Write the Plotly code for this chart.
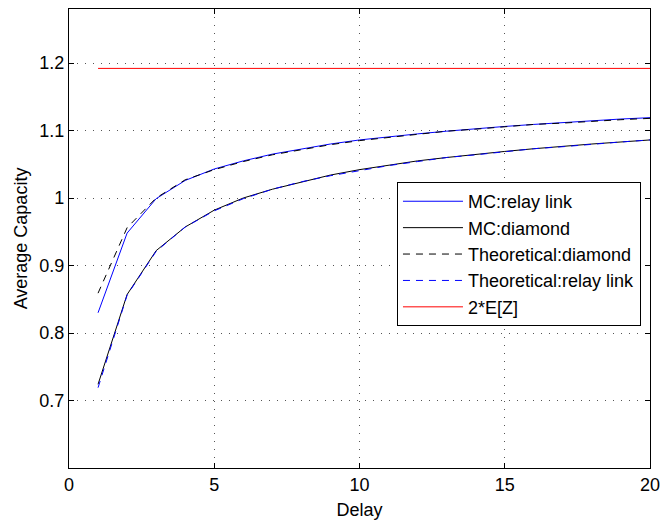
import plotly.graph_objects as go

# delay values (x axis)
delay = [1, 2, 3, 4, 5, 6, 7, 8, 9, 10, 11, 12, 13, 14, 15, 16, 17, 18, 19, 20]

# average capacity
mc_relay = [0.830, 0.948, 0.999, 1.026, 1.043, 1.055, 1.065, 1.073, 1.080, 1.086,
            1.091, 1.095, 1.099, 1.103, 1.106, 1.109, 1.112, 1.114, 1.117, 1.119]
mc_diamond = [0.724, 0.857, 0.922, 0.957, 0.982, 1.000, 1.013, 1.024, 1.034, 1.042,
              1.049, 1.055, 1.060, 1.065, 1.069, 1.073, 1.077, 1.080, 1.083, 1.086]
th_diamond = [0.859, 0.956, 1.000, 1.027, 1.042, 1.054, 1.064, 1.072, 1.079, 1.085,
              1.090, 1.095, 1.099, 1.102, 1.106, 1.109, 1.111, 1.114, 1.116, 1.118]
th_relay = [0.719, 0.856, 0.921, 0.957, 0.981, 0.999, 1.013, 1.024, 1.033, 1.041,
            1.048, 1.054, 1.060, 1.064, 1.069, 1.073, 1.076, 1.080, 1.083, 1.086]
ez_x = [1, 20]
ez_y = [1.192, 1.192]

font = "Liberation Sans, Arial, sans-serif"
fs = 18
dash = "7px,6px"

fig = go.Figure()
fig.add_trace(go.Scatter(x=delay, y=mc_relay, mode="lines", name="MC:relay link",
                         line=dict(color="#0000ff", width=1)))
fig.add_trace(go.Scatter(x=delay, y=mc_diamond, mode="lines", name="MC:diamond",
                         line=dict(color="#000000", width=1)))
fig.add_trace(go.Scatter(x=delay, y=th_diamond, mode="lines", name="Theoretical:diamond",
                         line=dict(color="#000000", width=1, dash=dash)))
fig.add_trace(go.Scatter(x=delay, y=th_relay, mode="lines", name="Theoretical:relay link",
                         line=dict(color="#0000ff", width=1, dash=dash)))
fig.add_trace(go.Scatter(x=ez_x, y=ez_y, mode="lines", name="2*E[Z]",
                         line=dict(color="#ff0000", width=1)))

axis_style = dict(
    showline=True, linecolor="black", linewidth=1.3, mirror="ticks",
    ticks="inside", ticklen=5, tickcolor="black",
    showgrid=True, gridcolor="#555555", griddash="1px,7px", gridwidth=1,
    zeroline=False, automargin=False,
    tickfont=dict(family=font, size=fs, color="black"),
)

fig.update_xaxes(range=[0, 20], tickvals=[0, 5, 10, 15, 20],
                 title=dict(text="Delay", font=dict(family=font, size=fs, color="black"),
                            standoff=9),
                 **axis_style)
fig.update_yaxes(range=[0.6, 1.28], tickvals=[0.7, 0.8, 0.9, 1.0, 1.1, 1.2],
                 ticktext=["0.7", "0.8", "0.9", "1", "1.1", "1.2"],
                 title=dict(text="Average Capacity", font=dict(family=font, size=fs, color="black"),
                            standoff=6),
                 **axis_style)

fig.update_layout(
    width=661, height=521,
    margin=dict(l=69, r=11, t=9, b=53),
    paper_bgcolor="white", plot_bgcolor="white",
    font=dict(family=font, size=fs, color="black"),
    legend=dict(x=0.5645, y=0.623, xanchor="left", yanchor="top",
                bgcolor="white", bordercolor="black", borderwidth=1,
                itemwidth=60,
                font=dict(family=font, size=fs, color="black")),
)

# page body has a default 8px margin; drop it so the figure sits at the corner
fig.write_html("out.html", config={"displayModeBar": False},
               post_script="document.body.style.margin='0px';")
